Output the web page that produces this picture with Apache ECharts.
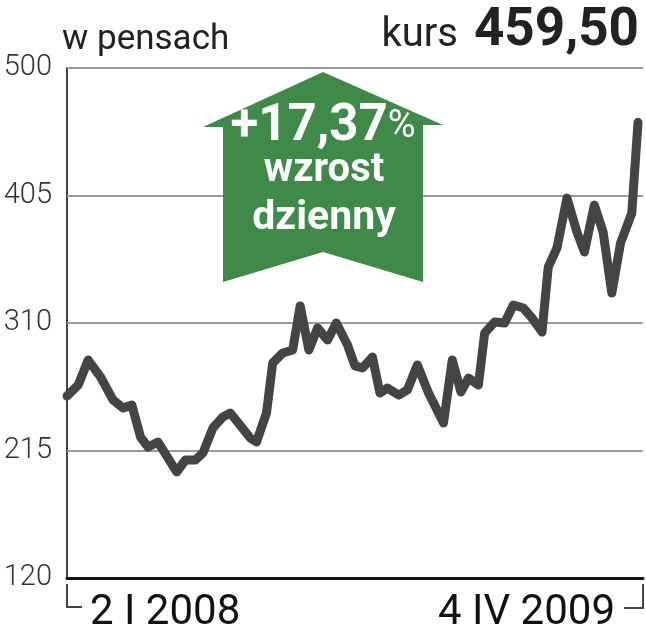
<!DOCTYPE html>
<html><head><meta charset="utf-8">
<script src="https://cdn.jsdelivr.net/npm/echarts@6/dist/echarts.min.js"></script>
<style>html,body{margin:0;padding:0;background:#fff}#c{width:646px;height:640px}</style>
</head><body><div id="c"></div>
<script>
// days since 2 I 2008
const days = [0,9,17,27,37,45,52,59,65,73,88,95,103,109,117,125,131,147,152,160,165,173,181,187,194,201,209,216,225,231,237,245,251,257,266,273,281,290,302,309,316,322,330,335,343,351,358,366,373,381,386,393,401,409,415,423,430,437,444,453,458];
const prices = [255.6,263.8,282.4,269.7,252.6,246.6,248.9,225.0,217.6,221.3,199.0,207.9,207.9,213.1,231.7,240.0,242.9,224.3,221.3,242.9,280.2,287.6,289.9,322.7,289.9,306.3,297.3,310.0,293.6,278.0,276.5,284.6,257.8,261.6,256.3,260.1,278.7,257.8,235.5,282.4,258.6,269.0,263.8,302.5,310.7,310.0,323.4,321.2,313.7,303.3,351.7,365.9,403.1,377.8,362.9,397.9,377.8,332.3,369.6,391.9,459.5];
const yTicks = [120,215,310,405,500];
const gridValues = [215,310,405,500];
const unitLabel = 'w pensach';
const lastLabel = 'kurs';
const lastValue = '459,50';
const startLabel = '2 I 2008';
const endLabel = '4 IV 2009';
const changeText = '+17,37';
const changeLines = ['wzrost','dzienny'];

const chart = echarts.init(document.getElementById('c'), null, {renderer:'canvas'});
const F = 'Roboto, "DejaVu Sans", sans-serif';
const green = '#3f8a48';
chart.setOption({
  animation:false,
  grid:{left:67,right:3,top:68,bottom:62},
  xAxis:{type:'value',min:0,max:462,
    axisLine:{show:true,onZero:false,lineStyle:{color:'#111',width:3}},
    axisTick:{show:false},axisLabel:{show:false},splitLine:{show:false}},
  yAxis:{type:'value',min:120,max:500,
    axisLine:{show:true,lineStyle:{color:'#444',width:2}},
    axisTick:{show:false},splitLine:{show:false},
    axisLabel:{customValues:yTicks,margin:15,fontFamily:F,fontWeight:300,fontSize:29,color:'#333'}},
  series:[
    {type:'line',data:[],silent:true,z:1,
     markLine:{silent:true,symbol:['none','none'],label:{show:false},z:1,
       lineStyle:{color:'#9a9a9a',width:2,type:'solid'},
       data:gridValues.map(v=>({yAxis:v}))}},
    {type:'line',z:3,data:days.map((d,i)=>[d,prices[i]]),showSymbol:false,
     lineStyle:{color:'#444',width:9,join:'round',cap:'round'}}
  ],
  graphic:[
    {type:'text',x:62,y:40,style:{text:unitLabel,verticalAlign:'middle',font:'35px '+F,fill:'#222'}},
    {type:'text',x:458,y:36,style:{text:lastLabel,align:'right',verticalAlign:'middle',font:'40px '+F,fill:'#222'}},
    {type:'text',x:639,y:32,style:{text:lastValue,align:'right',verticalAlign:'middle',font:'bold 53px '+F,fill:'#222'}},
    {type:'polygon',z:10,shape:{points:[[323,72],[443,125],[423,125],[423,282],[323,252],[223,282],[223,127],[203,127]]},style:{fill:green}},
    {type:'text',z:11,x:323,y:127,style:{text:'{a|'+changeText+'}{b|%}',align:'center',verticalAlign:'middle',
      rich:{a:{fontFamily:F,fontSize:51,fontWeight:'bold',fill:'#fff'},b:{fontFamily:F,fontSize:38,fill:'#fff'}}}},
    {type:'text',z:11,x:324,y:171,style:{text:changeLines[0],align:'center',verticalAlign:'middle',font:'bold 40px '+F,fill:'#fff'}},
    {type:'text',z:11,x:324,y:219,style:{text:changeLines[1],align:'center',verticalAlign:'middle',font:'bold 41px '+F,fill:'#fff'}},
    {type:'polyline',shape:{points:[[67,584],[67,607],[82,607]]},style:{stroke:'#444',lineWidth:2,fill:null}},
    {type:'polyline',shape:{points:[[624,608],[643,608],[643,584]]},style:{stroke:'#444',lineWidth:2,fill:null}},
    {type:'text',x:90,y:613,style:{text:startLabel,verticalAlign:'middle',font:'42px '+F,fill:'#111'}},
    {type:'text',x:615,y:613,style:{text:endLabel,align:'right',verticalAlign:'middle',font:'42px '+F,fill:'#111'}}
  ]
});
</script></body></html>
